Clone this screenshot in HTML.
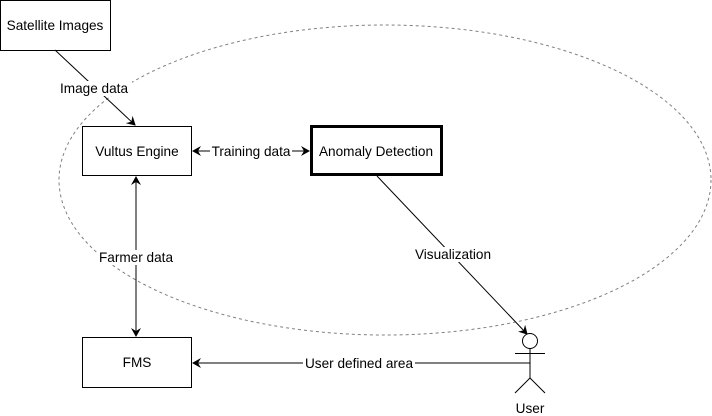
<!DOCTYPE html>
<html><head><style>body{margin:0;background:#fff}svg{display:block}</style></head><body>
<svg width="712" height="416" xmlns="http://www.w3.org/2000/svg" font-family="Liberation Sans, Arial, sans-serif" font-size="13.6">
<defs><marker id="a" markerWidth="10" markerHeight="10" refX="8" refY="5" orient="auto-start-reverse" markerUnits="userSpaceOnUse"><path d="M0,0 L9,5 L0,10 L3,5 Z" fill="#000"/></marker></defs>
<ellipse cx="385" cy="180" rx="326" ry="155" fill="none" stroke="#808080" stroke-dasharray="3,3"/>
<rect x="0.5" y="0.5" width="110" height="50" fill="#fff" stroke="#000"/>
<text x="55" y="30" text-anchor="middle">Satellite Images</text>
<rect x="82.5" y="126.5" width="109" height="49" fill="#fff" stroke="#000"/>
<text x="137" y="156" text-anchor="middle">Vultus Engine</text>
<rect x="311.5" y="126.5" width="130" height="48" fill="#fff" stroke="#000" stroke-width="3"/>
<text x="376" y="156" text-anchor="middle">Anomaly Detection</text>
<rect x="82.5" y="337.5" width="109" height="50" fill="#fff" stroke="#000"/>
<text x="137" y="367" text-anchor="middle">FMS</text>
<line x1="55" y1="50" x2="135" y2="125" stroke="#000" marker-end="url(#a)"/>
<rect x="56" y="81" width="76" height="15" fill="#fff"/><text x="94" y="93" text-anchor="middle">Image data</text>
<line x1="193" y1="151" x2="309" y2="151" stroke="#000" marker-start="url(#a)" marker-end="url(#a)"/>
<rect x="210" y="144" width="82" height="15" fill="#fff"/><text x="251" y="156" text-anchor="middle">Training data</text>
<line x1="136" y1="177" x2="136" y2="336" stroke="#000" marker-start="url(#a)" marker-end="url(#a)"/>
<rect x="97" y="250" width="78" height="15" fill="#fff"/><text x="136" y="262" text-anchor="middle">Farmer data</text>
<line x1="377" y1="176" x2="527" y2="334" stroke="#000" marker-end="url(#a)"/>
<rect x="414" y="247" width="78" height="15" fill="#fff"/><text x="453" y="259" text-anchor="middle">Visualization</text>
<line x1="530" y1="363" x2="193" y2="363" stroke="#000" marker-end="url(#a)"/>
<rect x="303" y="356" width="112" height="15" fill="#fff"/><text x="359" y="368" text-anchor="middle">User defined area</text>
<circle cx="530" cy="341" r="7.5" fill="#fff" stroke="#000"/>
<path d="M530,348.5V378M515,353.5H545M515,393L530,378L545,393" fill="none" stroke="#000"/>
<text x="530" y="413" text-anchor="middle">User</text>
</svg>
</body></html>
